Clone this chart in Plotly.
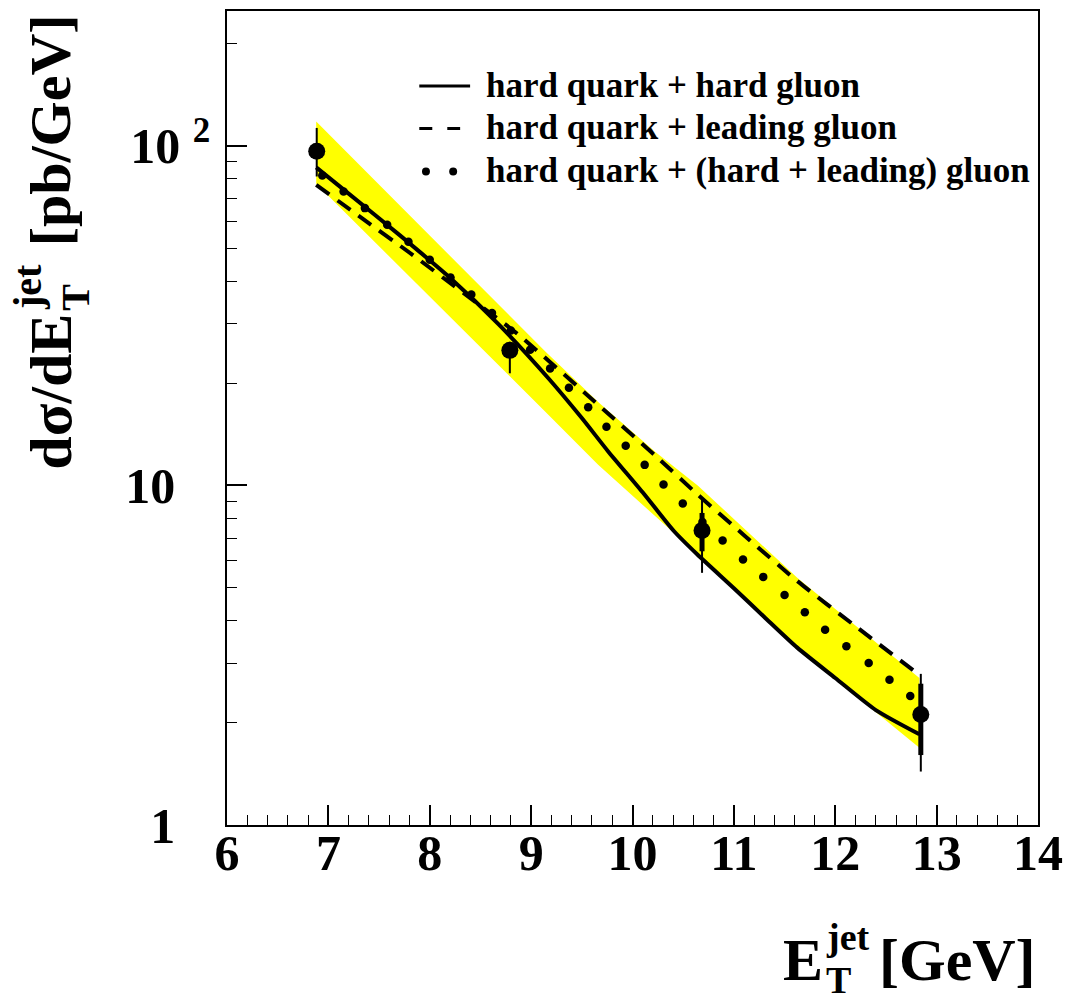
import plotly.graph_objects as go

# ---------------- data ----------------
data_x = [6.885, 8.79, 10.686, 12.844]
data_y = [96.5, 25.0, 7.37, 2.117]
tot_up = [16.5, 1.5, 1.82, 0.67]
tot_dn = [15.2, 3.6, 1.84, 0.68]
stat_up = [0.0, 0.0, 0.93, 0.49]
stat_dn = [0.0, 0.0, 0.97, 0.51]

band_x = [6.88, 8.157, 9.14, 9.661, 10.22, 10.643, 11.625, 12.83]
band_lo = [77.4, 32.4, 16.5, 11.5, 8.17, 6.27, 3.32, 1.69]
band_hi = [118.0, 48.9, 24.8, 17.6, 12.6, 10.0, 5.35, 2.71]

solid_x = [6.88, 7.2, 7.7, 8.2, 8.68, 9.17, 9.5, 9.76, 10.1, 10.41, 10.64,
           11.0, 11.3, 11.625, 12.0, 12.4, 12.83]
solid_y = [86.5, 72.4, 54.7, 40.9, 29.8, 20.7, 15.8, 12.6, 9.55, 7.33, 6.26,
           4.98, 4.10, 3.33, 2.71, 2.18, 1.85]

dash_x = [6.88, 7.3, 7.83, 8.4, 8.876, 9.66, 10.218, 10.643, 11.1, 11.625, 12.2, 12.80]
dash_y = [76.8, 62.2, 47.8, 35.6, 27.8, 17.3, 12.3, 9.40, 7.14, 5.23, 3.85, 2.81]

dot_x = [6.94, 7.15, 7.36, 7.58, 7.79, 8.0, 8.205, 8.41, 8.614, 8.80, 8.99,
         9.187, 9.373, 9.563, 9.743, 9.933, 10.12, 10.306, 10.496, 10.69,
         10.889, 11.09, 11.29, 11.50, 11.70, 11.90, 12.11, 12.33, 12.535, 12.74]
dot_y = [81.8, 73.4, 65.6, 58.6, 52.2, 46.2, 41.0, 36.5, 32.2, 28.6, 25.1,
         22.1, 19.4, 17.0, 14.9, 13.1, 11.5, 10.06, 8.85, 7.8,
         6.89, 6.05, 5.38, 4.76, 4.23, 3.76, 3.36, 3.00, 2.68, 2.40]

x_ticks = [6, 7, 8, 9, 10, 11, 12, 13, 14]
y_ticks = [1, 10, 100]
y_ticktext = ["1\u2002\u2009", "10\u2002\u2009", "10 <sup>2</sup>"]
y_minor = [2, 3, 4, 5, 6, 7, 8, 9, 20, 30, 40, 50, 60, 70, 80, 90, 200]

legend_labels = ["hard quark + hard gluon",
                 "hard quark + leading gluon",
                 "hard quark + (hard + leading) gluon"]

# ---------------- layout geometry ----------------
W, H = 1072, 1003
L, R, T, B = 227, 31, 9, 178
PW, PH = W - L - R, H - T - B


def px(x):
    return (x - L) / PW


def py(y):
    return (H - B - y) / PH


FONT = "Liberation Serif"

fig = go.Figure()

# uncertainty band
fig.add_trace(go.Scatter(x=band_x, y=band_lo, mode="lines",
                         line=dict(width=0, color="yellow"), showlegend=False,
                         hoverinfo="skip"))
fig.add_trace(go.Scatter(x=band_x, y=band_hi, mode="lines", fill="tonexty",
                         fillcolor="#ffff00", line=dict(width=0, color="yellow"),
                         showlegend=False, hoverinfo="skip"))

# curves
fig.add_trace(go.Scatter(x=solid_x, y=solid_y, mode="lines",
                         line=dict(color="black", width=4, shape="spline", smoothing=0.6),
                         showlegend=False))
fig.add_trace(go.Scatter(x=dash_x, y=dash_y, mode="lines",
                         line=dict(color="black", width=4, dash="16px,10px",
                                   shape="spline", smoothing=0.6),
                         showlegend=False))
fig.add_trace(go.Scatter(x=dot_x, y=dot_y, mode="markers",
                         marker=dict(color="black", size=8.5), showlegend=False))

# data points
fig.add_trace(go.Scatter(x=data_x, y=data_y, mode="markers",
                         marker=dict(color="black", size=17),
                         error_y=dict(type="data", symmetric=False, array=tot_up,
                                      arrayminus=tot_dn, thickness=2, width=0,
                                      color="black"),
                         showlegend=False))
fig.add_trace(go.Scatter(x=data_x, y=data_y, mode="markers",
                         marker=dict(color="black", size=1, opacity=0),
                         error_y=dict(type="data", symmetric=False, array=stat_up,
                                      arrayminus=stat_dn, thickness=5, width=0,
                                      color="black"),
                         showlegend=False))

# ---------------- legend (drawn manually) ----------------
shapes = []
annotations = []
leg_rows = [84.3, 126.7, 170.0]
shapes.append(dict(type="line", xref="paper", yref="paper",
                   x0=px(420), x1=px(471), y0=py(leg_rows[0]), y1=py(leg_rows[0]),
                   line=dict(color="black", width=3)))
shapes.append(dict(type="line", xref="paper", yref="paper",
                   x0=px(420), x1=px(461), y0=py(leg_rows[1]), y1=py(leg_rows[1]),
                   line=dict(color="black", width=3, dash="13px,15px")))
for cx in (426.7, 454.0):
    shapes.append(dict(type="circle", xref="paper", yref="paper",
                       x0=px(cx - 4), x1=px(cx + 4),
                       y0=py(leg_rows[2] + 4), y1=py(leg_rows[2] - 4),
                       fillcolor="black", line=dict(color="black", width=0)))
for lab, yy in zip(legend_labels, leg_rows):
    annotations.append(dict(text=lab, xref="paper", yref="paper",
                            x=px(485), y=py(yy - 1), xanchor="left", yanchor="middle",
                            showarrow=False,
                            font=dict(family=FONT, size=35, weight="bold", color="black")))

# ---------------- axis titles ----------------
TF = 60
# x title
annotations += [
    dict(text="E", x=px(783), y=py(960), xanchor="left", yanchor="middle", size=TF),
    dict(text="[GeV]", x=px(879), y=py(960), xanchor="left", yanchor="middle", size=TF),
    dict(text="jet", x=px(826), y=py(937), xanchor="left", yanchor="middle", size=38),
    dict(text="T", x=px(826), y=py(980), xanchor="left", yanchor="middle", size=38),
]
# y title (rotated)
annotations += [
    dict(text="dσ/dE", x=px(50), y=py(391), xanchor="center", yanchor="middle",
         textangle=-90, size=TF),
    dict(text="[pb/GeV]", x=px(50), y=py(129), xanchor="center", yanchor="middle",
         textangle=-90, size=58),
    dict(text="jet", x=px(27), y=py(286), xanchor="center", yanchor="middle",
         textangle=-90, size=40),
    dict(text="T", x=px(75), y=py(296), xanchor="center", yanchor="middle",
         textangle=-90, size=40),
]
final_ann = []
for a in annotations:
    if "font" in a:
        final_ann.append(a)
        continue
    sz = a.pop("size")
    a.update(xref="paper", yref="paper", showarrow=False,
             font=dict(family=FONT, size=sz, weight="bold", color="black"))
    final_ann.append(a)

fig.update_layout(
    width=W, height=H,
    margin=dict(l=L, r=R, t=T, b=B, pad=0),
    paper_bgcolor="white", plot_bgcolor="white",
    showlegend=False,
    shapes=shapes,
    annotations=final_ann,
    xaxis=dict(range=[6, 14], tickvals=x_ticks, ticks="inside", ticklen=20,
               tickwidth=1.5, tickcolor="black", showgrid=False, zeroline=False,
               showline=True, linecolor="black", linewidth=1.5, mirror=True,
               ticklabelstandoff=-17,
               tickfont=dict(family=FONT, size=50, weight="bold", color="black"),
               minor=dict(ticks="inside", ticklen=10, tickwidth=1, tickcolor="black",
                          dtick=0.2, tick0=6, showgrid=False)),
    yaxis=dict(type="log", range=[0, 2.3975], tickvals=y_ticks, ticktext=y_ticktext,
               ticks="inside", ticklen=20, tickwidth=1.5, tickcolor="black",
               showgrid=False, zeroline=False, showline=True, linecolor="black",
               linewidth=1.5, mirror=True, ticklabelstandoff=5,
               tickfont=dict(family=FONT, size=50, weight="bold", color="black"),
               minor=dict(ticks="inside", ticklen=10, tickwidth=1, tickcolor="black",
                          tickvals=y_minor, showgrid=False)),
)

fig.write_html("out.html")
